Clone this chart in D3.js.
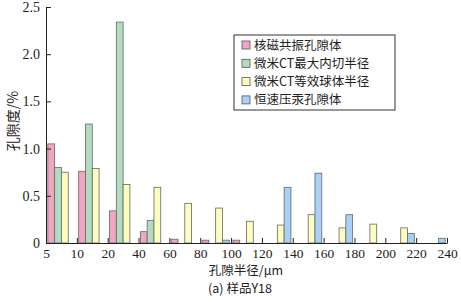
<!DOCTYPE html>
<html>
<head>
<meta charset="utf-8">
<script src="https://cdn.jsdelivr.net/npm/d3@7/dist/d3.min.js"></script>
<style>
  body { margin: 0; background: #fff; }
  .axis path, .axis line { stroke: #222; }
  .axis text { font-family: "Liberation Serif", serif; font-size: 14px; fill: #222; }
  .axis.x text { font-size: 13.5px; }
</style>
</head>
<body>
<div class="chart"></div>
<script>
// pore radius bin edges (um) and porosity (%) per method
const binEdges = ['5', '10', '20', '40', '60', '80', '100', '120', '140', '160', '180', '200', '220', '240'];
const seriesNames = ['核磁共振孔隙体', '微米CT最大内切半径', '微米CT等效球体半径', '恒速压汞孔隙体'];
const nmr      = [1.05, 0.76, 0.34, 0.12, 0.04, 0.03, 0.03, 0, 0, 0, 0, 0, 0];
const ctInner  = [0.80, 1.26, 2.34, 0.24, 0, 0, 0, 0, 0, 0, 0, 0, 0];
const ctSphere = [0.75, 0.79, 0.62, 0.59, 0.42, 0.37, 0.23, 0.19, 0.30, 0.16, 0.20, 0.16, 0];
const mercury  = [0, 0, 0, 0, 0, 0.03, 0, 0.59, 0.74, 0.30, 0, 0.10, 0.05];
const yTicks = [0, 0.5, 1.0, 1.5, 2.0, 2.5];

const colors = ['#f2a6c2', '#b2dcc0', '#fdfdc0', '#a9d1f6'];
const series = [nmr, ctInner, ctSphere, mercury];

const margin = { top: 7, right: 14, bottom: 59, left: 46 };
const width = 461 - margin.left - margin.right;
const height = 302 - margin.top - margin.bottom;

const svg = d3.select('.chart')
  .append('svg')
    .attr('width', 461)
    .attr('height', 302)
  .append('g')
    .attr('transform', `translate(${margin.left}, ${margin.top})`);

// x: bin index -> pixels, labels sit on the bin edges
const nBins = binEdges.length - 1;
const xScale = d3.scaleLinear().domain([0, nBins]).range([0, width]);
const binW = xScale(1) - xScale(0);
const xInner = d3.scaleBand()
  .domain(d3.range(series.length))
  .range([0, binW])
  .paddingInner(0)
  .paddingOuter(0.27);

const yScale = d3.scaleLinear().domain([0, 2.5]).range([height, 0]);

// bars
series.forEach((vals, s) => {
  svg.append('g')
    .selectAll('rect')
    .data(vals.map((v, i) => ({ v, i })).filter(d => d.v > 0))
    .enter()
    .append('rect')
      .attr('x', d => xScale(d.i) + xInner(s))
      .attr('y', d => yScale(d.v))
      .attr('width', xInner.bandwidth())
      .attr('height', d => yScale(0) - yScale(d.v))
      .attr('fill', colors[s])
      .attr('stroke', '#666')
      .attr('stroke-width', 0.8);
});

// axes
const yAxis = d3.axisLeft(yScale)
  .tickValues(yTicks)
  .tickFormat(d => d === 0 ? '0' : d3.format('.1f')(d))
  .tickSizeInner(-5)
  .tickSizeOuter(0)
  .tickPadding(6);
svg.append('g').attr('class', 'axis').call(yAxis);

const xAxis = d3.axisBottom(xScale)
  .tickValues(d3.range(nBins + 1))
  .tickFormat(i => binEdges[i])
  .tickSizeInner(-5)
  .tickSizeOuter(0)
  .tickPadding(5);
svg.append('g')
    .attr('class', 'axis x')
    .attr('transform', `translate(0, ${height})`)
  .call(xAxis);

// axis titles
svg.append('text')
  .attr('transform', `translate(${-28}, ${114}) rotate(-90)`)
  .attr('text-anchor', 'middle')
  .style('font-family', '"Noto Sans CJK SC", sans-serif')
  .style('font-size', '14px')
  .style('fill', '#222')
  .text('孔隙度/%');

svg.append('text')
  .attr('x', 200)
  .attr('y', 268)
  .attr('text-anchor', 'middle')
  .style('font-family', '"Noto Sans CJK SC", sans-serif')
  .style('font-size', '12.5px')
  .style('fill', '#222')
  .text('孔隙半径/μm');

svg.append('text')
  .attr('x', 194)
  .attr('y', 286)
  .attr('text-anchor', 'middle')
  .style('font-family', '"Noto Sans CJK SC", sans-serif')
  .style('font-size', '12.5px')
  .style('fill', '#222')
  .text('(a) 样品Y18');

// legend
const legend = svg.append('g').attr('transform', `translate(${234 - margin.left}, ${35 - margin.top})`);
legend.append('rect')
  .attr('width', 161)
  .attr('height', 75)
  .attr('fill', '#fff')
  .attr('stroke', '#333')
  .attr('stroke-width', 1);

const items = legend.selectAll('.item')
  .data(seriesNames)
  .enter()
  .append('g')
  .attr('class', 'item')
  .attr('transform', (d, i) => `translate(8, ${10 + i * 18.3})`);

items.append('rect')
  .attr('y', -4)
  .attr('width', 8)
  .attr('height', 8)
  .attr('fill', (d, i) => colors[i])
  .attr('stroke', '#555')
  .attr('stroke-width', 0.8);

items.append('text')
  .attr('x', 12)
  .attr('y', 4.5)
  .style('font-family', '"Noto Sans CJK SC", sans-serif')
  .style('font-size', '12.5px')
  .style('fill', '#222')
  .text(d => d);
</script>
</body>
</html>
